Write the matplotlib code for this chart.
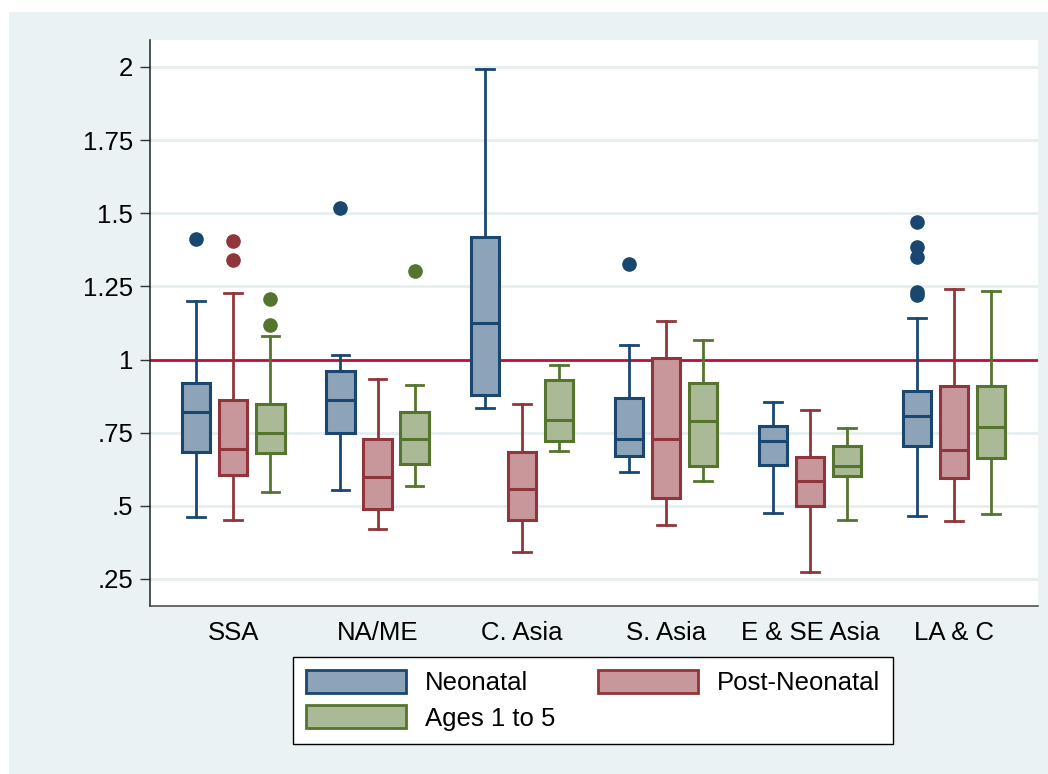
import matplotlib.pyplot as plt
from matplotlib.patches import Patch, Rectangle

regions = ['SSA', 'NA/ME', 'C. Asia', 'S. Asia', 'E & SE Asia', 'LA & C']
series = ['Neonatal', 'Post-Neonatal', 'Ages 1 to 5']

# box stats: lower whisker, q1, median, q3, upper whisker
neo_lo = [0.461, 0.553, 0.833, 0.615, 0.477, 0.466]
neo_q1 = [0.685, 0.750, 0.878, 0.670, 0.638, 0.703]
neo_med = [0.820, 0.862, 1.124, 0.730, 0.723, 0.807]
neo_q3 = [0.921, 0.962, 1.420, 0.868, 0.773, 0.894]
neo_hi = [1.200, 1.015, 1.993, 1.048, 0.855, 1.142]
neo_out = [[1.412], [1.518], [], [1.326], [], [1.471, 1.385, 1.349, 1.232, 1.220]]

post_lo = [0.452, 0.420, 0.343, 0.434, 0.275, 0.448]
post_q1 = [0.607, 0.490, 0.450, 0.526, 0.500, 0.595]
post_med = [0.693, 0.597, 0.557, 0.729, 0.586, 0.690]
post_q3 = [0.863, 0.730, 0.683, 1.005, 0.668, 0.910]
post_hi = [1.226, 0.935, 0.848, 1.133, 0.827, 1.242]
post_out = [[1.406, 1.339], [], [], [], [], []]

age_lo = [0.546, 0.567, 0.687, 0.584, 0.451, 0.471]
age_q1 = [0.682, 0.642, 0.723, 0.637, 0.601, 0.665]
age_med = [0.749, 0.729, 0.794, 0.789, 0.635, 0.770]
age_q3 = [0.849, 0.820, 0.930, 0.920, 0.704, 0.910]
age_hi = [1.082, 0.913, 0.980, 1.068, 0.766, 1.235]
age_out = [[1.206, 1.118], [1.304], [], [], [], []]

yticks = [2, 1.75, 1.5, 1.25, 1, 0.75, 0.5, 0.25]
ylabels = ['2', '1.75', '1.5', '1.25', '1', '.75', '.5', '.25']

lines = ['#1a476f', '#90353b', '#55752f']
fills = ['#8da3b7', '#c8979b', '#aaba97']
bg = '#eaf2f3'

plt.rcParams['font.family'] = ['Liberation Sans', 'DejaVu Sans']

fig = plt.figure(figsize=(10.48, 7.74), dpi=100, facecolor='white')
fig.patches.append(Rectangle((9 / 1048, 0), 1, 1 - 12 / 774, transform=fig.transFigure,
                             facecolor=bg, edgecolor='none', zorder=-10))
ax = fig.add_axes([150 / 1048, 1 - 606 / 774, 888 / 1048, 566 / 774])
ax.set_facecolor('white')

def make_stats(lo, q1, med, q3, hi, out):
    return [dict(whislo=lo[i], q1=q1[i], med=med[i], q3=q3[i], whishi=hi[i], fliers=out[i])
            for i in range(len(lo))]

all_stats = [
    make_stats(neo_lo, neo_q1, neo_med, neo_q3, neo_hi, neo_out),
    make_stats(post_lo, post_q1, post_med, post_q3, post_hi, post_out),
    make_stats(age_lo, age_q1, age_med, age_q3, age_hi, age_out),
]

offsets = [-0.257, 0, 0.257]
for k in range(3):
    pos = [i + offsets[k] for i in range(len(regions))]
    ax.bxp(all_stats[k], positions=pos, widths=0.196, capwidths=0.123,
           patch_artist=True, manage_ticks=False,
           boxprops=dict(facecolor=fills[k], edgecolor=lines[k], linewidth=2.2),
           medianprops=dict(color=lines[k], linewidth=2.2),
           whiskerprops=dict(color=lines[k], linewidth=2.0),
           capprops=dict(color=lines[k], linewidth=2.0),
           flierprops=dict(marker='o', markersize=9.5, markerfacecolor=lines[k],
                           markeredgecolor=lines[k]),
           zorder=3)

ax.axhline(1, color='#c40c3c', linewidth=2, zorder=2)

ax.set_xlim(-0.578, 5.581)
ax.set_ylim(0.1577, 2.092)
ax.set_yticks(yticks)
ax.set_yticklabels(ylabels)
ax.set_xticks(range(len(regions)))
ax.set_xticklabels(regions)
ax.yaxis.grid(True, color='#e6eef0', linewidth=2)
ax.set_axisbelow(True)
ax.tick_params(axis='y', length=7, width=1, pad=5, labelsize=18.5, color='#333333')
ax.tick_params(axis='x', length=0, pad=11, labelsize=18.5)
for s in ['top', 'right']:
    ax.spines[s].set_visible(False)
ax.spines['left'].set_color('#222222')
ax.spines['bottom'].set_color('#444444')
ax.spines['left'].set_linewidth(1.1)
ax.spines['bottom'].set_linewidth(1.1)

# column-first fill: Neonatal and Ages in the first column, Post-Neonatal in the second
order = [0, 2, 1]
handles = [Patch(facecolor=fills[k], edgecolor=lines[k], linewidth=2.0, label=series[k])
           for k in order]
leg = fig.legend(handles=handles, loc='upper center', ncol=2,
                 bbox_to_anchor=(593 / 1048, 1 - 657 / 774), fontsize=18.5,
                 frameon=True, fancybox=False, edgecolor='black', framealpha=1,
                 handlelength=3.9, handleheight=1.0, handletextpad=0.74,
                 columnspacing=1.63, borderpad=0.5, labelspacing=0.4,
                 borderaxespad=0)
leg.get_frame().set_linewidth(1)

fig.savefig('out.png', dpi=100)
